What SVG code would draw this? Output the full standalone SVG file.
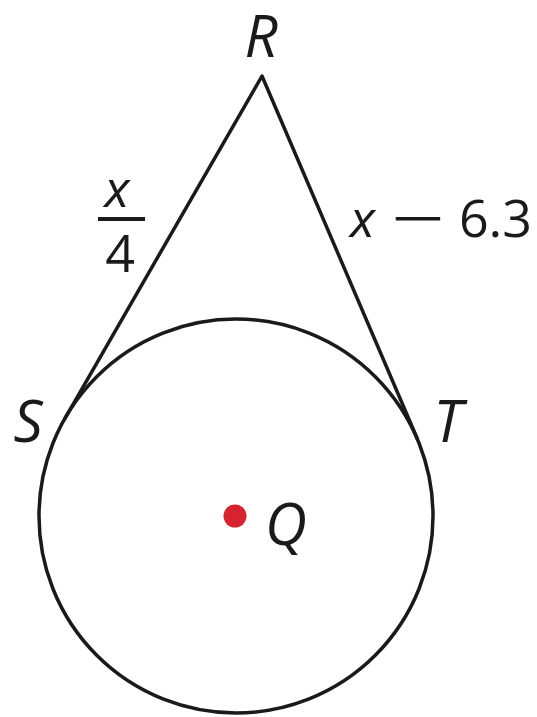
<svg xmlns="http://www.w3.org/2000/svg" width="537" height="717" viewBox="0 0 537 717">
<style>
.ln{fill:none;stroke:#1a1a1a;stroke-width:3.5;stroke-linecap:round;stroke-linejoin:round}
.pt{font-family:"Open Sans","Liberation Sans",sans-serif;font-style:italic;font-size:58px;fill:#1a1a1a}
.lb{font-family:"Open Sans","Liberation Sans",sans-serif;font-size:52px;fill:#1a1a1a}
.it{font-style:italic}
</style>
<rect width="537" height="717" fill="#fff"/>
<g id="circle"><circle class="ln" cx="236" cy="516" r="197"/></g>
<g id="connectors">
<polyline class="ln" points="65.3,417.8 262,76 417.2,438.5"/>
</g>
<g id="R"><text class="pt" x="261" y="57" text-anchor="middle">R</text></g>
<g id="S"><text class="pt" x="28" y="442" text-anchor="middle">S</text></g>
<g id="T"><text class="pt" x="448" y="442" text-anchor="middle">T</text></g>
<g id="Q"><circle cx="235" cy="516" r="11.5" fill="#d7232e"/><text class="pt" x="286" y="545" text-anchor="middle">Q</text></g>
<g id="label-RS">
<text class="lb it" x="117" y="207" text-anchor="middle">x</text>
<rect x="98" y="217" width="47" height="4" fill="#1a1a1a"/>
<text class="lb" x="120" y="272" text-anchor="middle">4</text>
</g>
<g id="label-RT">
<text class="lb it" x="350" y="237">x</text>
<text class="lb" x="391" y="237" textLength="54" lengthAdjust="spacingAndGlyphs">−</text>
<text class="lb" x="532" y="237" text-anchor="end">6.3</text>
</g>
</svg>
